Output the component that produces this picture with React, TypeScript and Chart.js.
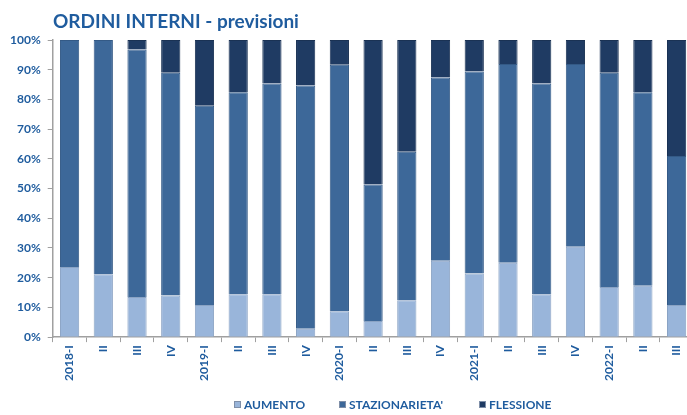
import React, { useEffect, useRef } from "react";
import { Chart, registerables } from "chart.js";

Chart.register(...registerables);

const categories = ["2018-I", "II", "III", "IV", "2019-I", "II", "III", "IV", "2020-I", "II", "III", "IV", "2021-I", "II", "III", "IV", "2022-I", "II", "III"];
const aumento = [23.6, 21.2, 13.5, 14.0, 10.8, 14.4, 14.4, 2.8, 8.7, 5.4, 12.4, 25.7, 21.4, 25.0, 14.4, 30.4, 16.9, 17.3, 10.8];
const stazionarieta = [76.4, 78.8, 83.3, 75.0, 67.1, 68.0, 71.0, 81.9, 83.0, 46.0, 50.0, 61.7, 68.0, 66.9, 71.0, 61.5, 72.1, 65.1, 50.2];
const flessione = [0.0, 0.0, 3.2, 11.0, 22.1, 17.6, 14.6, 15.3, 8.3, 48.6, 37.6, 12.6, 10.6, 8.1, 14.6, 8.1, 11.0, 17.6, 39.0];
const seriesLabels = ["AUMENTO", "STAZIONARIETA'", "FLESSIONE"];
const yTicks = [0, 10, 20, 30, 40, 50, 60, 70, 80, 90, 100];
const titleText = "ORDINI INTERNI - previsioni";

const TEXT = "#1F5C9E";
const FONT = "Lato, 'Open Sans', sans-serif";
const COLORS = ["#99B5DA", "#3D6899", "#1F3B63"];
const BORDERS = ["#8AA3C4", "#345A86", "#1A3254"];

const titleLegendPlugin = {
  id: "titleLegend",
  afterDraw(chart: any) {
    const ctx = chart.ctx;
    ctx.save();
    ctx.fillStyle = TEXT;
    ctx.font = `bold 19px ${FONT}`;
    ctx.textBaseline = "alphabetic";
    ctx.textAlign = "left";
    ctx.fillText(titleText, 53, 28);

    ctx.font = `bold 12px ${FONT}`;
    ctx.textBaseline = "middle";
    const y = 405;
    const starts = [234, 339, 479];
    chart.data.datasets.forEach((ds: any, i: number) => {
      const x = starts[i];
      ctx.fillStyle = COLORS[i];
      ctx.fillRect(x, y - 4, 7, 7);
      ctx.strokeStyle = "#7F8FA8";
      ctx.lineWidth = 1;
      ctx.strokeRect(x + 0.5, y - 3.5, 6, 6);
      ctx.fillStyle = TEXT;
      ctx.fillText(ds.label, x + 10, y);
    });
    ctx.restore();
  },
};

export default function App() {
  const ref = useRef<HTMLCanvasElement>(null);
  useEffect(() => {
    document.body.style.margin = "0";
    const ctx = ref.current!.getContext("2d")!;
    const chart = new Chart(ctx, {
      type: "bar",
      data: {
        labels: categories,
        datasets: [
          { label: seriesLabels[0], data: aumento, backgroundColor: COLORS[0], borderColor: BORDERS[0], borderWidth: 1 },
          { label: seriesLabels[1], data: stazionarieta, backgroundColor: COLORS[1], borderColor: BORDERS[1], borderWidth: 1 },
          { label: seriesLabels[2], data: flessione, backgroundColor: COLORS[2], borderColor: BORDERS[2], borderWidth: 1 },
        ],
      },
      options: {
        animation: false,
        responsive: false,
        maintainAspectRatio: false,
        layout: { padding: { left: 3, right: 0, top: 40, bottom: 31 } },
        datasets: { bar: { categoryPercentage: 1, barPercentage: 0.57 } },
        plugins: {
          title: { display: false },
          legend: { display: false },
          tooltip: { enabled: false },
        },
        scales: {
          x: {
            stacked: true,
            grid: { display: true, drawOnChartArea: false, drawTicks: true, tickLength: 5, color: "#A0A0A0" },
            border: { color: "#A0A0A0", width: 1.5 },
            ticks: {
              color: TEXT,
              font: { family: FONT, size: 12, weight: "bold" },
              maxRotation: 90,
              minRotation: 90,
              autoSkip: false,
              padding: 3,
            },
          },
          y: {
            stacked: true,
            min: 0,
            max: 100,
            afterBuildTicks: (axis: any) => {
              axis.ticks = yTicks.map((v) => ({ value: v }));
            },
            grid: { display: true, drawOnChartArea: false, drawTicks: true, tickLength: 5, color: "#A0A0A0" },
            border: { color: "#A0A0A0", width: 1.5 },
            ticks: {
              color: TEXT,
              font: { family: FONT, size: 12, weight: "bold" },
              callback: (v: any) => v + "%",
              padding: 7,
            },
          },
        },
      },
      plugins: [titleLegendPlugin],
    });
    return () => chart.destroy();
  }, []);
  return (
    <div style={{ width: 687, height: 415, background: "#fff", overflow: "hidden" }}>
      <canvas ref={ref} width={694} height={415} style={{ display: "block" }} />
    </div>
  );
}
